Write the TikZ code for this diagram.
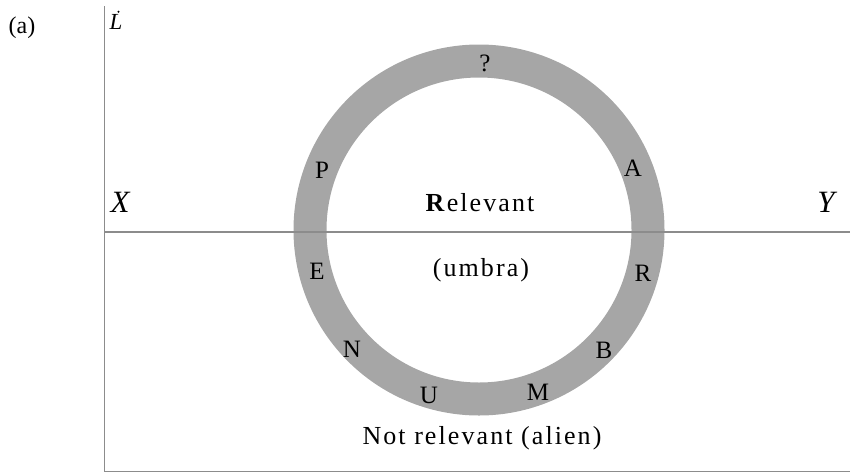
\documentclass[tikz,border=0pt]{standalone}
\usepackage{fontspec}
\setmainfont{Liberation Serif}
\begin{document}
\begin{tikzpicture}[x=1pt,y=-1pt,
  axis/.style={draw=black!45,line width=1.4pt},
  ring/.style={draw=black!35,line width=33pt},
  ringletter/.style={font=\fontsize{25}{25}\selectfont,inner sep=0pt},
  zonetext/.style={font=\fontsize{26}{26}\selectfont\addfontfeatures{LetterSpace=8},inner sep=0pt},
  axislabel/.style={font=\fontsize{31}{31}\selectfont\itshape,inner sep=0pt}]
\useasboundingbox (0,0) rectangle (850,474);
% ring
\coordinate (c) at (479,230);
\draw[ring] (c) circle[radius=169];
% axes
\coordinate (top) at (104.5,6);
\coordinate (corner) at (104.5,471.5);
\coordinate (bright) at (850,471.5);
\coordinate (xl) at (104.5,232);
\coordinate (xr) at (850,232);
\draw[axis] (top) -- (corner) -- (bright);
\draw[axis] (xl) -- (xr);
% labels
\node[font=\fontsize{24}{24}\selectfont,inner sep=0pt] (panel) at (22,28) {(a)};
\node[font=\fontsize{23}{23}\selectfont\itshape,inner sep=0pt] (ldot) at (116,22) {L};
\fill (ldot.north) ++(2.5,-2.5) circle[radius=1.2];
\node[axislabel] (xlab) at (120,202) {X};
\node[axislabel] (ylab) at (826,202) {Y};
% letters on the ring
\node[ringletter] (q) at (485,63) {?};
\node[ringletter] (p) at (322,170) {P};
\node[ringletter] (a) at (633,168) {A};
\node[ringletter] (e) at (317,271) {E};
\node[ringletter] (r) at (643,273) {R};
\node[ringletter] (n) at (352,349) {N};
\node[ringletter] (b) at (604,350) {B};
\node[ringletter] (u) at (429,395) {U};
\node[ringletter] (m) at (538,392) {M};
% zone texts
\node[zonetext] (rel) at (480,203) {\textbf{R}elevant};
\node[zonetext] (umb) at (481,270) {(umbra)};
\node[zonetext] (alien) at (482,438) {Not relevant (alien)};
\end{tikzpicture}
\end{document}
